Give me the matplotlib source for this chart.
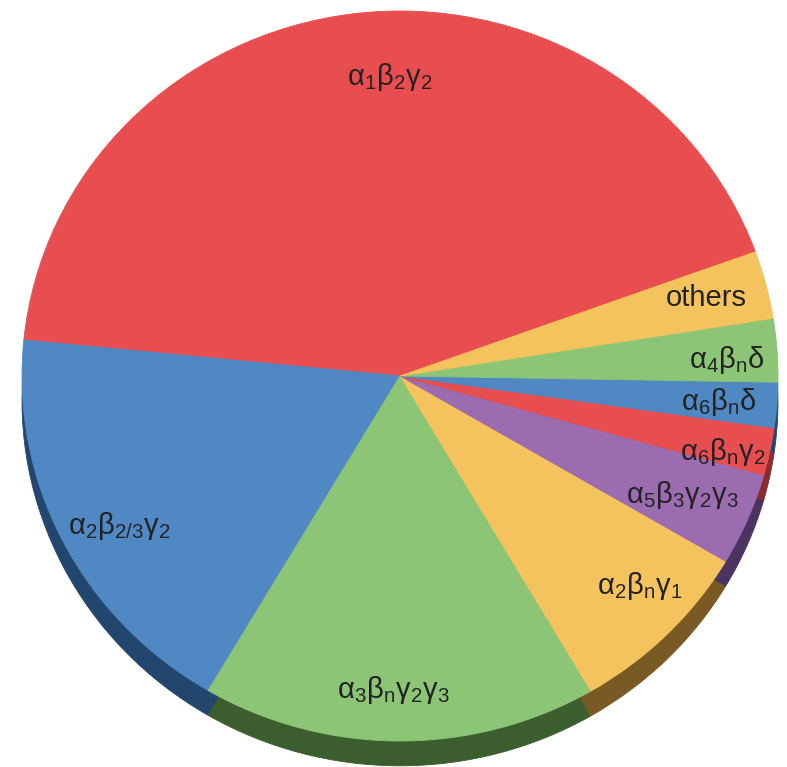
import matplotlib
matplotlib.use("Agg")
import matplotlib.pyplot as plt
import numpy as np

# ---- data ----
labels = [r"$\mathregular{α_1β_2γ_2}$", r"$\mathregular{α_2β_{2/3}γ_2}$", r"$\mathregular{α_3β_nγ_2γ_3}$",
          r"$\mathregular{α_2β_nγ_1}$", r"$\mathregular{α_5β_3γ_2γ_3}$", r"$\mathregular{α_6β_nγ_2}$",
          r"$\mathregular{α_6β_nδ}$", r"$\mathregular{α_4β_nδ}$", "others"]
values = [42.9, 18.1, 16.9, 8.1, 4.1, 2.1, 2.0, 2.8, 3.0]
colors = ["#E84E50", "#4F88C3", "#8CC575", "#F5C35E", "#9C6CB1", "#E84E50", "#4F88C3", "#8CC575", "#F5C35E"]
side_colors = ["#8A2C2E", "#23466F", "#3C5E2E", "#7A5A24", "#4B3362", "#8A2C2E", "#23466F", "#3C5E2E", "#7A5A24"]

# ---- layout ----
label_r = [0.82, 0.85, 0.86, 0.855, 0.815, 0.878, 0.847, 0.866, 0.838]
label_nudge = [-5.3, 2.0, -1.0, 2.85, -0.4, -1.7, -0.3, -1.2, 0.3]
start = 19.9
depth = 0.068

plt.rcParams['mathtext.fontset'] = 'custom'
plt.rcParams['mathtext.rm'] = 'Liberation Sans'
plt.rcParams['font.family'] = ['Liberation Sans', 'DejaVu Sans']

fig = plt.figure(figsize=(7.87, 7.67), dpi=100)
ax = fig.add_axes([0, 0, 1, 1])

# side (3D depth)
ax.pie(values, colors=side_colors, startangle=start, counterclock=True,
       center=(0, -depth), radius=1.0,
       wedgeprops=dict(linewidth=0.6))
for w, c in zip(ax.patches, side_colors):
    w.set_edgecolor(c)

# top face
wedges, _ = ax.pie(values, colors=colors, startangle=start, counterclock=True,
                   center=(0, 0), radius=1.0,
                   wedgeprops=dict(linewidth=0.6))
for w, c in zip(wedges, colors):
    w.set_edgecolor(c)

for w, lab, r, nd in zip(wedges, labels, label_r, label_nudge):
    mid = np.deg2rad((w.theta1 + w.theta2) / 2 + nd)
    ax.text(r * np.cos(mid), r * np.sin(mid), lab, ha="center", va="center",
            fontsize=21, color="#232323")

ax.set_aspect("auto")
ax.set_xlim(-400 / 378, 387 / 378)
ax.set_ylim((376 - 767) / 365, 376 / 365)
ax.axis("off")

fig.savefig("out.png", dpi=100)
